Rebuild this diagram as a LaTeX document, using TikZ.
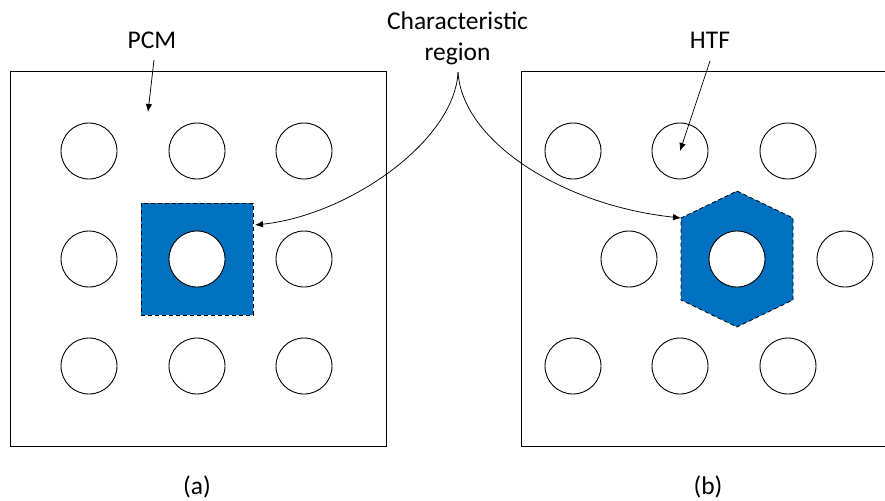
\documentclass[tikz,border=0pt]{standalone}
\usepackage{fontspec}
\setmainfont{Carlito}
\usetikzlibrary{arrows.meta}
\definecolor{cellblue}{HTML}{0070C0}
\begin{document}
\begin{tikzpicture}[x=1pt,y=-1pt,
  frame/.style={draw=black,line width=0.85pt},
  tube/.style={circle,draw=black,fill=white,line width=0.9pt,minimum size=56pt,inner sep=0pt},
  cell/.style={fill=cellblue,draw=black,dashed,dash pattern=on 4pt off 3pt,line width=0.8pt},
  label/.style={font=\fontsize{25.5}{31}\selectfont,inner sep=0pt},
  pointer/.style={draw=black,line width=0.75pt,-{Latex[length=8pt,width=6.5pt]}}]
\useasboundingbox (0,0) rectangle (885,500);
\clip (0,0) rectangle (885,500);

% (a) square arrangement
\draw[frame] (10,71) rectangle (386,446);
\node[cell,rectangle,minimum size=112pt,inner sep=0pt] (sq) at (197,259) {};
\foreach \i/\x in {1/89,2/197,3/304}{
  \node[tube] (a1\i) at (\x,151) {};
  \node[tube] (a3\i) at (\x,366) {};
}
\node[tube] (a21) at (89,259) {};
\node[tube] (a22) at (197,259) {};
\node[tube] (a23) at (304,259) {};

% (b) staggered arrangement
\draw[frame] (521,71) rectangle (897,446);
\draw[cell] (737,191) -- (793,218) -- (793,300) -- (737,327) -- (681,300) -- (681,218) -- cycle;
\coordinate (hexnw) at (681,218);
\foreach \i/\x in {1/573,2/680,3/788}{
  \node[tube] (b1\i) at (\x,151) {};
  \node[tube] (b3\i) at (\x,366) {};
}
\node[tube] (b21) at (629,259) {};
\node[tube] (b22) at (737,259) {};
\node[tube] (b23) at (845,259) {};

% labels
\node[label] (pcm) at (152,40) {PCM};
\node[label] (htf) at (710,40) {HTF};
\node[label,align=center] (cr) at (457.5,38) {Characteristic\\region};
\node[label] (la) at (197,487) {(a)};
\node[label] (lb) at (708,487) {(b)};

% pointers
\coordinate (pcmtip) at (148,112);
\coordinate (crroot) at (458,72);
\coordinate (sqin) at (255,225);
\draw[pointer] (154,60) -- (pcmtip);
\draw[pointer] (710,61) -- (b12.center);
\draw[pointer] (crroot) .. controls (455,140) and (350,215) .. (sqin);
\draw[pointer] (crroot) .. controls (462,140) and (560,205) .. (hexnw);
\end{tikzpicture}
\end{document}
